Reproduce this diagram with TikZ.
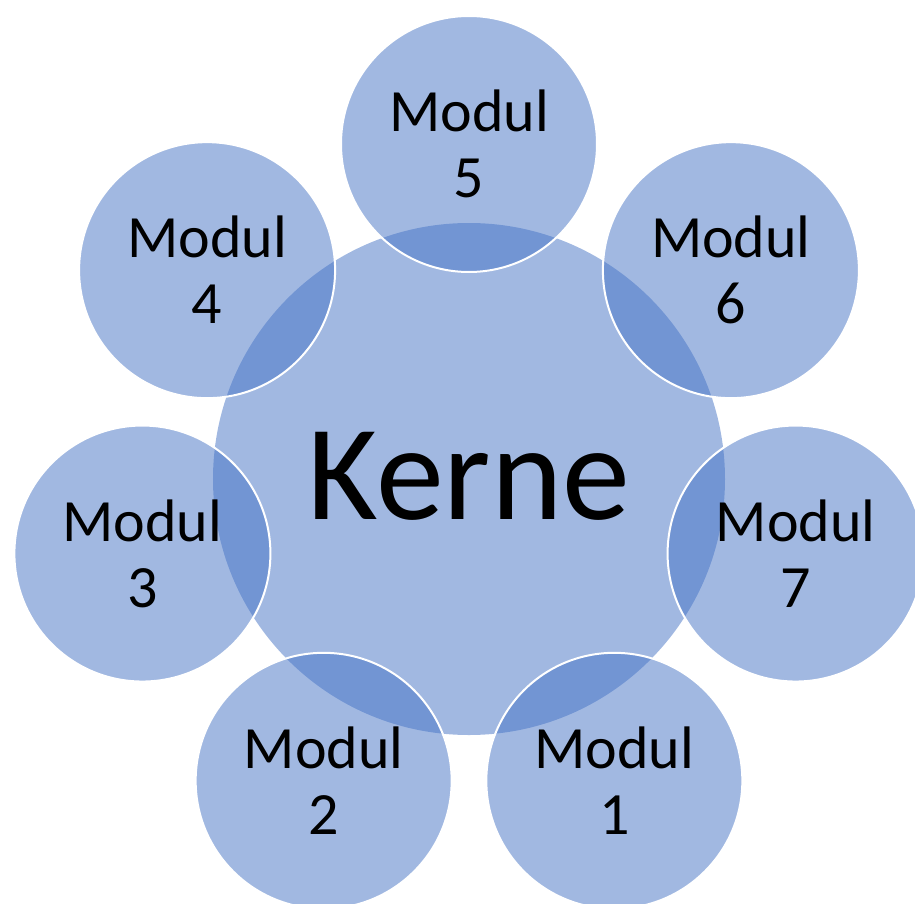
\documentclass[tikz,border=0pt]{standalone}
\usepackage{fontspec}
\setmainfont{Carlito}
\usepackage{tikz}
\definecolor{kernblau}{HTML}{4472C4}
\tikzset{
	kreis/.style={circle, fill=kernblau, fill opacity=0.5, text opacity=1, inner sep=0pt},
	modul/.style={kreis, draw=white, draw opacity=1, line width=2pt, minimum size=256pt, align=center,
		font=\fontsize{60}{66}\selectfont},
}

\begin{document}
\begin{tikzpicture}[x=1pt, y=1pt]
			\useasboundingbox (-469,-424) rectangle (446,479);
			\node[kreis, minimum size=512pt, font=\fontsize{136}{136}\selectfont] (kerne) at (0,0) {\raisebox{6pt}{Kerne}};
			% sieben Module rundherum, Modul 5 oben
			\foreach \k in {1,...,7}
				\node[modul] (m\k) at ({90-(\k-5)*360/7}:335) {Modul\\\k};
		\end{tikzpicture}
\end{document}
